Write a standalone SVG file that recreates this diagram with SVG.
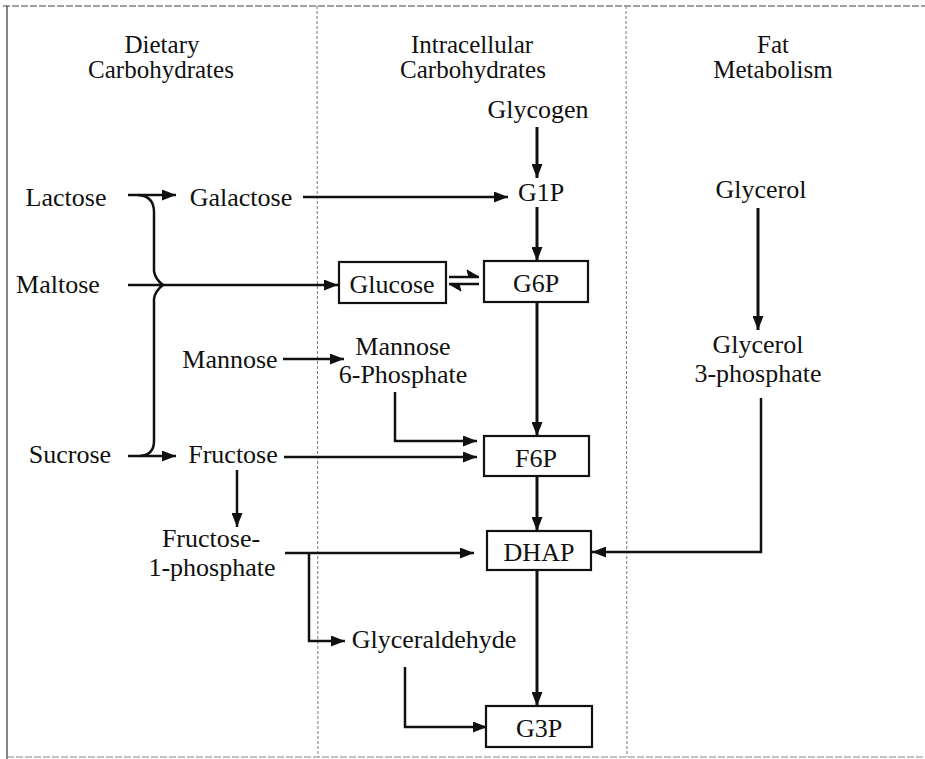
<svg xmlns="http://www.w3.org/2000/svg" width="925" height="759" viewBox="0 0 925 759">
<style>
text{font-family:"Liberation Serif","Times New Roman",serif;font-size:26px;fill:#111;text-anchor:middle}
.h{font-size:25px}
.box{fill:#fff;stroke:#111;stroke-width:2.2}
.c{fill:none;stroke:#111;stroke-width:2.5}
.t{fill:none;stroke:#111;stroke-width:3}
.frame{fill:none;stroke:#444;stroke-width:1.2;stroke-dasharray:7 2}
.div{fill:none;stroke:#777;stroke-width:1;stroke-dasharray:3 2}
</style>
<defs>
<marker id="ah" viewBox="0 0 14 11" markerWidth="14" markerHeight="11" refX="14" refY="5.5" orient="auto" markerUnits="userSpaceOnUse">
<path d="M0,0 L14,5.5 L0,11 z" fill="#111"/>
</marker>
</defs>
<rect width="925" height="759" fill="#fff"/>
<g id="frame">
<path class="frame" d="M3,6 L925,6"/>
<path class="frame" d="M7,6 L7,759" style="stroke-dasharray:none;stroke:#333"/>
<path class="frame" d="M7,757 L925,757" style="stroke:#888"/>
<path class="div" d="M317,6 L318,757"/>
<path class="div" d="M626,6 L627,757"/>
</g>
<g id="headers">
<text class="h" x="162" y="53">Dietary</text>
<text class="h" x="161" y="78">Carbohydrates</text>
<text class="h" x="472" y="53">Intracellular</text>
<text class="h" x="473" y="78">Carbohydrates</text>
<text class="h" x="773" y="53">Fat</text>
<text class="h" x="773" y="78">Metabolism</text>
</g>
<g id="connectors">
<path class="c" d="M128,195 L176,195" marker-end="url(#ah)"/>
<path class="c" d="M128,285 L338,285" marker-end="url(#ah)"/>
<path class="c" d="M128,456 L176,456" marker-end="url(#ah)"/>
<path class="c" d="M138,195 Q154,196 154,212 L154,271 Q155,279 163,285 Q155,291 154,299 L154,441 Q154,455 140,456"/>
<path class="c" d="M303,197 L508,197" marker-end="url(#ah)"/>
<path class="t" d="M537,127 L537,178" marker-end="url(#ah)"/>
<path class="t" d="M537,207 L537,261" marker-end="url(#ah)"/>
<path class="c" d="M449,277 L479,277"/>
<path d="M479,277 L467,270 L469,277 z" fill="#111" stroke="#111" stroke-width="1"/>
<path class="c" d="M449,284 L479,284"/>
<path d="M449,284 L461,291 L459,284 z" fill="#111" stroke="#111" stroke-width="1"/>
<path class="t" d="M537,302 L537,436" marker-end="url(#ah)"/>
<path class="c" d="M283,359 L344,359" marker-end="url(#ah)"/>
<path class="c" d="M395,392 L395,441 L477,441" marker-end="url(#ah)"/>
<path class="c" d="M284,457 L477,457" marker-end="url(#ah)"/>
<path class="t" d="M537,476 L537,531" marker-end="url(#ah)"/>
<path class="c" d="M237,470 L237,527" marker-end="url(#ah)"/>
<path class="c" d="M285,553 L474,553" marker-end="url(#ah)"/>
<path class="c" d="M309,553 L309,641 L345,641" marker-end="url(#ah)"/>
<path class="t" d="M537,570 L537,706" marker-end="url(#ah)"/>
<path class="c" d="M405,667 L405,727 L487,727" marker-end="url(#ah)"/>
<path class="t" d="M758,208 L758,330" marker-end="url(#ah)"/>
<path class="c" d="M761,398 L761,552 L592,552" marker-end="url(#ah)"/>
</g>
<g id="n-lactose"><text x="66" y="206">Lactose</text></g>
<g id="n-galactose"><text x="241" y="206">Galactose</text></g>
<g id="n-maltose"><text x="58" y="293">Maltose</text></g>
<g id="n-sucrose"><text x="70" y="463">Sucrose</text></g>
<g id="n-mannose"><text x="230" y="368">Mannose</text></g>
<g id="n-fructose"><text x="233" y="463">Fructose</text></g>
<g id="n-f1p"><text x="211" y="547">Fructose-</text><text x="212" y="576">1-phosphate</text></g>
<g id="n-glyceraldehyde"><text x="434" y="648">Glyceraldehyde</text></g>
<g id="n-glycogen"><text x="538" y="118">Glycogen</text></g>
<g id="n-g1p"><text x="541" y="201">G1P</text></g>
<g id="n-glucose"><rect class="box" x="339" y="262" width="107" height="41"/><text x="392" y="293">Glucose</text></g>
<g id="n-g6p"><rect class="box" x="484" y="261" width="104" height="41"/><text x="536" y="292">G6P</text></g>
<g id="n-m6p"><text x="403" y="355">Mannose</text><text x="403" y="383">6-Phosphate</text></g>
<g id="n-f6p"><rect class="box" x="484" y="436" width="105" height="40"/><text x="536" y="467">F6P</text></g>
<g id="n-dhap"><rect class="box" x="487" y="531" width="104" height="39"/><text x="539" y="561">DHAP</text></g>
<g id="n-g3p"><rect class="box" x="486" y="706" width="106" height="41"/><text x="539" y="737">G3P</text></g>
<g id="n-glycerol"><text x="761" y="198">Glycerol</text></g>
<g id="n-g3phos"><text x="758" y="353">Glycerol</text><text x="758" y="382">3-phosphate</text></g>
</svg>
